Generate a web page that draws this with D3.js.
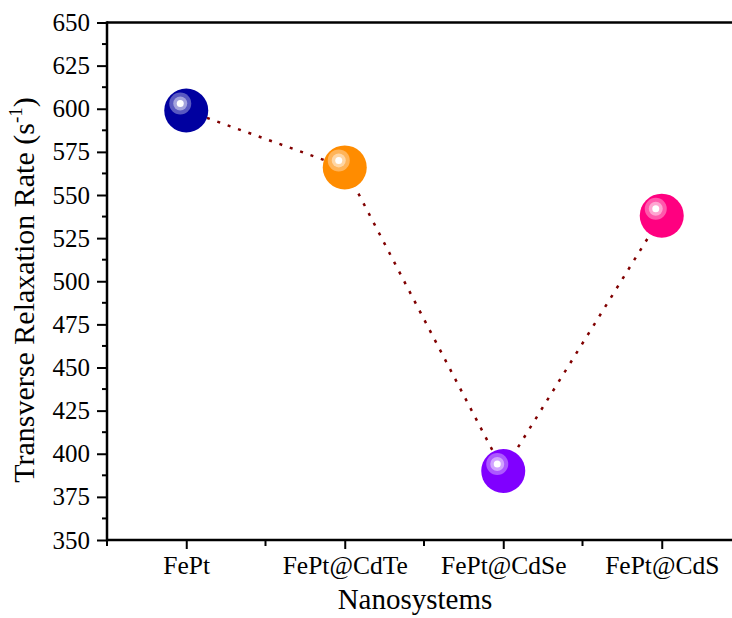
<!DOCTYPE html>
<html>
<head>
    <meta charset="utf-8">
    <script src="https://d3js.org/d3.v7.min.js"></script>
    <style>
        body { margin: 0; background: #fff; }
        svg text { font-family: "Times New Roman", "Liberation Serif", Times, serif; fill: #000; }
    </style>
</head>
<body>
<div id="chart"></div>
<script>
    // data
    var categories = ["FePt", "FePt@CdTe", "FePt@CdSe", "FePt@CdS"];
    var rates = [599, 566, 390, 538];
    var colors = ["#0000a0", "#ff8c00", "#8000ff", "#ff0080"];
    var yTicks = [350, 375, 400, 425, 450, 475, 500, 525, 550, 575, 600, 625, 650];

    var W = 732, H = 618;
    var margin = { top: 22.5, left: 107, bottom: 78, right: -9 };

    var svg = d3.select("#chart").append("svg")
        .attr("width", W).attr("height", H);

    // x is a linear index scale so the half steps can carry minor ticks
    var x = d3.scaleLinear().domain([0.5, 4.5]).range([margin.left, W - margin.right]);
    var y = d3.scaleLinear().domain([350, 650]).range([H - margin.bottom, margin.top]);

    var data = categories.map(function (c, i) { return { name: c, idx: i + 1, v: rates[i], col: colors[i] }; });

    // minor ticks
    var yMinor = d3.range(362.5, 650, 25);
    svg.selectAll(".yminor").data(yMinor).enter().append("line")
        .attr("x1", x(0.5) - 5).attr("x2", x(0.5))
        .attr("y1", function (d) { return y(d); }).attr("y2", function (d) { return y(d); })
        .attr("stroke", "#000").attr("stroke-width", 2);
    var xMinor = [0.5, 1.5, 2.5, 3.5];
    svg.selectAll(".xminor").data(xMinor).enter().append("line")
        .attr("x1", function (d) { return x(d); }).attr("x2", function (d) { return x(d); })
        .attr("y1", y(350)).attr("y2", y(350) + 6)
        .attr("stroke", "#000").attr("stroke-width", 2);

    // y axis
    var yAxis = svg.append("g")
        .attr("transform", "translate(" + x(0.5) + ",0)")
        .call(d3.axisLeft(y).tickValues(yTicks).tickSize(10).tickPadding(7).tickFormat(d3.format("d")));
    yAxis.selectAll("text").style("font-size", "25px");

    // x axis
    var xAxis = svg.append("g")
        .attr("transform", "translate(0," + y(350) + ")")
        .call(d3.axisBottom(x).tickValues([1, 2, 3, 4]).tickSize(9).tickPadding(7)
            .tickFormat(function (d) { return categories[d - 1]; }));
    xAxis.selectAll("text").style("font-size", "25.5px");

    [yAxis, xAxis].forEach(function (a) {
        a.attr("font-family", null);
        a.select(".domain").remove();
        a.selectAll(".tick line").attr("stroke-width", 2);
    });

    // frame: left, bottom, top
    svg.append("line").attr("x1", x(0.5)).attr("x2", x(0.5)).attr("y1", y(650) - 1.2).attr("y2", y(350) + 1.2)
        .attr("stroke", "#000").attr("stroke-width", 2.5);
    svg.append("line").attr("x1", x(0.5)).attr("x2", W).attr("y1", y(350)).attr("y2", y(350))
        .attr("stroke", "#000").attr("stroke-width", 2.5);
    svg.append("line").attr("x1", x(0.5)).attr("x2", W).attr("y1", y(650)).attr("y2", y(650))
        .attr("stroke", "#000").attr("stroke-width", 2.5);

    // dotted connecting line
    svg.append("path")
        .datum(data)
        .attr("d", d3.line().x(function (d) { return x(d.idx); }).y(function (d) { return y(d.v); }))
        .attr("fill", "none")
        .attr("stroke", "#800000")
        .attr("stroke-width", 2.5)
        .attr("stroke-dasharray", "3,8");

    // shaded balls
    var balls = svg.selectAll(".ball").data(data).enter().append("g")
        .attr("transform", function (d) { return "translate(" + x(d.idx) + "," + y(d.v) + ")"; });
    balls.append("circle").attr("r", 22).attr("fill", function (d) { return d.col; });
    balls.append("circle").attr("cx", -6).attr("cy", -7).attr("r", 11)
        .attr("fill", "#fff").attr("fill-opacity", 0.35);
    balls.append("circle").attr("cx", -6).attr("cy", -7).attr("r", 7)
        .attr("fill", "#fff").attr("fill-opacity", 0.45);
    balls.append("circle").attr("cx", -6).attr("cy", -7).attr("r", 3.5)
        .attr("fill", "#fff");

    // axis titles
    svg.append("text")
        .attr("transform", "translate(34,290) rotate(-90)")
        .attr("text-anchor", "middle")
        .style("font-size", "30px")
        .html("Transverse Relaxation Rate (s<tspan dy='-12' font-size='19px'>-1</tspan><tspan dy='12'>)</tspan>");

    svg.append("text")
        .attr("x", 415).attr("y", 609)
        .attr("text-anchor", "middle")
        .style("font-size", "29px")
        .text("Nanosystems");
</script>
</body>
</html>
